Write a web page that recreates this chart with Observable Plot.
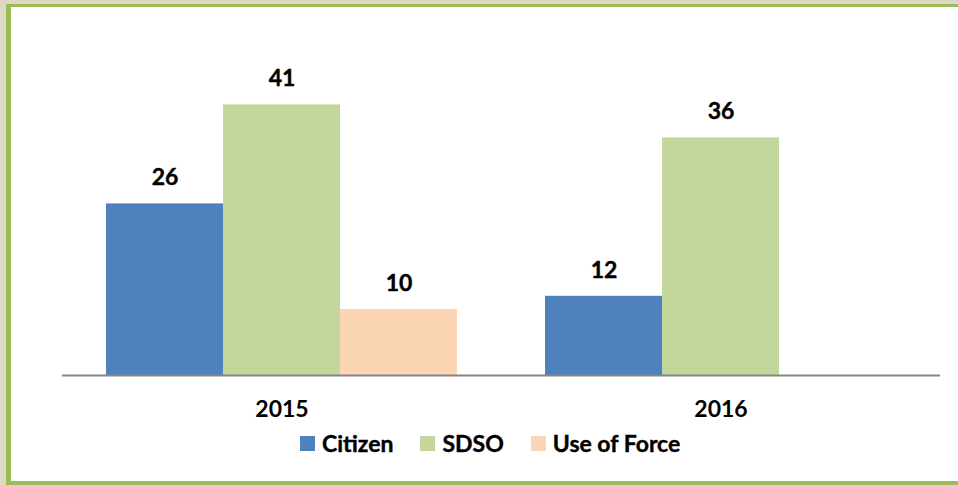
<!DOCTYPE html>
<html>
<head>
<meta charset="utf-8">
<script src="https://cdn.jsdelivr.net/npm/d3@7"></script>
<script src="https://cdn.jsdelivr.net/npm/@observablehq/plot@0.6"></script>
<style>
  html, body { margin: 0; padding: 0; }
  body { background: #ddd9c3; width: 958px; height: 485px; overflow: hidden; position: relative; font-family: Lato, "Open Sans", sans-serif; }
  #frame { position: absolute; left: 6px; top: 4px; width: 947px; height: 474px; background: #fff;
           border-left: 5px solid #9bbb59; border-top: 3px solid #9bbb59; border-bottom: 4px solid #9bbb59; }
  #chart svg { display: block; }
  #legend { position: absolute; left: 289px; top: 425px; height: 22px; display: flex; align-items: center;
            font: bold 23px Lato, sans-serif; line-height: 22px; color: #000; -webkit-text-stroke: 0.4px #000; }
  .item { display: flex; align-items: center; margin-right: 27px; }
  .sw { width: 15px; height: 15px; margin-right: 7px; }
</style>
</head>
<body>
<div id="frame">
  <div id="chart"></div>
  <div id="legend"></div>
</div>
<script>
const years = ["2015", "2016"];
const series = ["Citizen", "SDSO", "Use of Force"];
const colors = ["#4f81bd", "#c3d69b", "#fcd5b5"];
const values2015 = [26, 41, 10];
const values2016 = [12, 36, null];

const rows = [];
years.forEach((yr, i) => {
  const vals = i === 0 ? values2015 : values2016;
  series.forEach((s, j) => {
    if (vals[j] != null) rows.push({year: yr, series: s, value: vals[j]});
  });
});

const chart = Plot.plot({
  width: 947,
  height: 418,
  marginLeft: 51,
  marginRight: 18,
  marginTop: 71,
  marginBottom: 50,
  style: {fontFamily: "Lato, sans-serif", background: "transparent"},
  fx: {domain: years, paddingInner: 0, paddingOuter: 0, label: null, axis: null},
  x: {domain: series, paddingInner: 0, paddingOuter: 0.376, axis: null},
  y: {domain: [0, 45], axis: null},
  color: {domain: series, range: colors},
  marks: [
    Plot.barY(rows, {fx: "year", x: "series", y: "value", fill: "series"}),
    Plot.text(rows, {fx: "year", x: "series", y: "value", text: d => String(d.value),
      dy: -26, fontSize: 23, fontWeight: "bold", fill: "#000", stroke: "#000", strokeWidth: 0.4}),
    Plot.ruleY([0], {stroke: "#868686", strokeWidth: 2}),
    Plot.axisFx({anchor: "bottom", tickSize: 0, tickPadding: 25, fontSize: 23, fontWeight: "bold", label: null,
      color: "#000", stroke: "#000", strokeWidth: 0.4})
  ]
});
document.getElementById("chart").appendChild(chart);

const legend = document.getElementById("legend");
series.forEach((s, j) => {
  const it = document.createElement("div");
  it.className = "item";
  const sw = document.createElement("div");
  sw.className = "sw";
  sw.style.background = colors[j];
  const tx = document.createElement("span");
  tx.textContent = s;
  it.appendChild(sw);
  it.appendChild(tx);
  legend.appendChild(it);
});
</script>
</body>
</html>
